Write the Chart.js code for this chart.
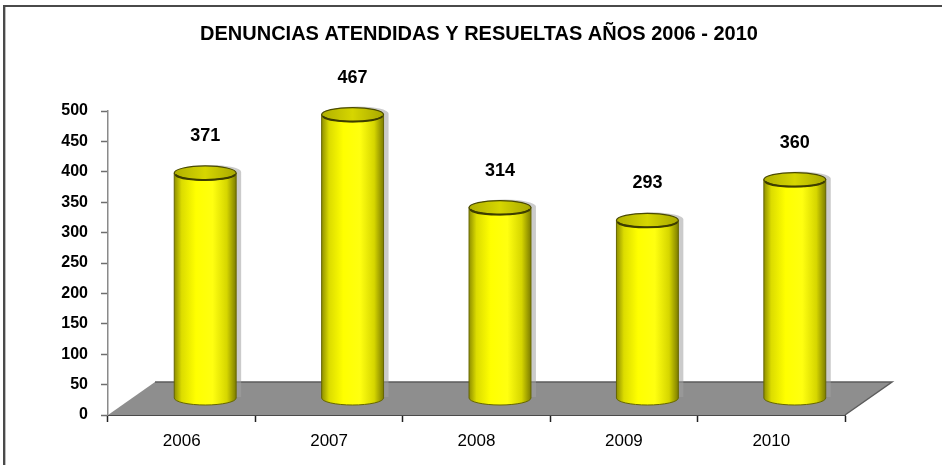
<!DOCTYPE html>
<html>
<head>
<meta charset="utf-8">
<script src="https://cdn.jsdelivr.net/npm/chart.js@4"></script>
<style>
  html, body { margin: 0; padding: 0; background: #fff; }
  #wrap { width: 942px; height: 465px; }
</style>
</head>
<body>
<div id="wrap"><canvas id="grafico" width="942" height="465"></canvas></div>
<script>
const years = ["2006", "2007", "2008", "2009", "2010"];
const denuncias = [371, 467, 314, 293, 360];
const yTicks = [0, 50, 100, 150, 200, 250, 300, 350, 400, 450, 500];

// depth of the fake 3d floor
const depthX = 47, depthY = 33;

const marco = {
    id: "marco",
    beforeDraw(chart) {
        const ctx = chart.ctx;
        ctx.save();
        ctx.fillStyle = "#4a4a4a";
        ctx.fillRect(3, 5, 942, 2);
        ctx.fillRect(3, 5, 2, 465);
        ctx.fillStyle = "#bdbdbd";
        ctx.fillRect(5, 7, 1, 465);
        ctx.restore();
    }
};

const cilindros = {
    id: "cilindros",
    beforeDatasetsDraw(chart) {
        const ctx = chart.ctx;
        const xs = chart.scales.x, ys = chart.scales.y;
        const y0 = ys.getPixelForValue(0);
        ctx.save();
        ctx.beginPath();
        ctx.moveTo(xs.left, y0);
        ctx.lineTo(xs.right, y0);
        ctx.lineTo(xs.right + depthX, y0 - depthY);
        ctx.lineTo(xs.left + depthX, y0 - depthY);
        ctx.closePath();
        ctx.fillStyle = "#8e8e8e";
        ctx.fill();
        ctx.strokeStyle = "#5c5c5c";
        ctx.lineWidth = 1.5;
        ctx.beginPath();
        ctx.moveTo(xs.left + depthX, y0 - depthY);
        ctx.lineTo(xs.right + depthX, y0 - depthY);
        ctx.lineTo(xs.right, y0);
        ctx.stroke();
        ctx.restore();
    },
    afterDatasetsDraw(chart) {
        const ctx = chart.ctx;
        const meta = chart.getDatasetMeta(0);
        const dx = depthX / 2, dy = depthY / 2;
        meta.data.forEach((bar, i) => {
            const cx = bar.x + dx;
            const top = bar.y - dy;
            const bottom = bar.base - dy;
            const rx = bar.width / 2;
            const ry = 7;
            ctx.save();
            // shadow
            ctx.fillStyle = "rgba(160,160,160,0.55)";
            ctx.beginPath();
            ctx.ellipse(cx + 5, top - 1, rx, ry, 0, 0, Math.PI * 2);
            ctx.rect(cx - rx + 5, top - 1, rx * 2, bottom - top);
            ctx.fill();
            // body
            const g = ctx.createLinearGradient(cx - rx, 0, cx + rx, 0);
            g.addColorStop(0, "#8f8f00");
            g.addColorStop(0.12, "#dcdc00");
            g.addColorStop(0.35, "#ffff00");
            g.addColorStop(0.62, "#ffff10");
            g.addColorStop(0.85, "#d6d600");
            g.addColorStop(1, "#7d7d00");
            ctx.beginPath();
            ctx.moveTo(cx - rx, top);
            ctx.lineTo(cx - rx, bottom);
            ctx.ellipse(cx, bottom, rx, ry, 0, Math.PI, 0, true);
            ctx.lineTo(cx + rx, top);
            ctx.ellipse(cx, top, rx, ry, 0, 0, Math.PI, false);
            ctx.closePath();
            ctx.fillStyle = g;
            ctx.fill();
            ctx.strokeStyle = "#666600";
            ctx.lineWidth = 1;
            ctx.stroke();
            // cap
            const gc = ctx.createLinearGradient(cx - rx, 0, cx + rx, 0);
            gc.addColorStop(0, "#b0b000");
            gc.addColorStop(0.5, "#d6d600");
            gc.addColorStop(1, "#a8a800");
            ctx.beginPath();
            ctx.ellipse(cx, top, rx, ry, 0, 0, Math.PI * 2);
            ctx.fillStyle = gc;
            ctx.fill();
            ctx.strokeStyle = "#4a4a00";
            ctx.lineWidth = 1.2;
            ctx.stroke();
            ctx.beginPath();
            ctx.ellipse(cx, top + 1, rx - 1, ry - 1, 0, 0.1, Math.PI - 0.1, false);
            ctx.strokeStyle = "#3d3d00";
            ctx.lineWidth = 2;
            ctx.stroke();
            // value label
            ctx.fillStyle = "#000";
            ctx.font = "bold 18px 'Liberation Sans', Arial, sans-serif";
            ctx.textAlign = "center";
            ctx.textBaseline = "middle";
            ctx.fillText(String(denuncias[i]), cx, top - 37);
            ctx.restore();
        });
    }
};

const data = {
    labels: years,
    datasets: [
        {
            label: "Denuncias",
            data: denuncias,
            backgroundColor: "rgba(0,0,0,0)",
            borderWidth: 0,
            categoryPercentage: 1,
            barPercentage: 0.42,
        },
    ],
};

const config = {
    type: "bar",
    data: data,
    options: {
        responsive: false,
        animation: false,
        events: [],
        layout: { padding: { left: 16, right: 0, top: 0, bottom: 10 } },
        plugins: {
            legend: { display: false },
            tooltip: { enabled: false },
            title: {
                display: true,
                text: "DENUNCIAS ATENDIDAS Y RESUELTAS AÑOS 2006 - 2010",
                color: "#000",
                font: { family: "'Liberation Sans', Arial", size: 20, weight: "bold" },
                padding: { top: 22, bottom: 65 },
            },
        },
        scales: {
            y: {
                min: 0,
                max: 500,
                afterFit(scale) { scale.width = 92; },
                afterBuildTicks(scale) { scale.ticks = yTicks.map(v => ({ value: v })); },
                border: { display: true, color: "#8a8a8a", width: 1.5 },
                grid: { display: true, drawOnChartArea: false, drawTicks: true, tickLength: 7, color: "#6e6e6e", tickWidth: 1.5 },
                ticks: {
                    color: "#000",
                    padding: 13,
                    font: { family: "'Liberation Sans', Arial", size: 16, weight: "bold" },
                },
            },
            // empty right axis only keeps room for the floor depth
            y2: {
                position: "right",
                min: 0,
                max: 500,
                afterFit(scale) { scale.width = 97; },
                border: { display: false },
                grid: { display: false },
                ticks: { display: false },
            },
            x: {
                afterFit(scale) { scale.height = 40; },
                border: { display: true, color: "#4a4a4a", width: 1 },
                grid: { display: true, offset: true, drawOnChartArea: false, drawTicks: true, tickLength: 7, color: "#222", tickWidth: 1.5 },
                ticks: {
                    color: "#000",
                    padding: 9,
                    font: { family: "'Liberation Sans', Arial", size: 17, weight: "normal" },
                },
            },
        },
    },
    plugins: [marco, cilindros],
};

new Chart(document.getElementById("grafico"), config);
</script>
</body>
</html>
